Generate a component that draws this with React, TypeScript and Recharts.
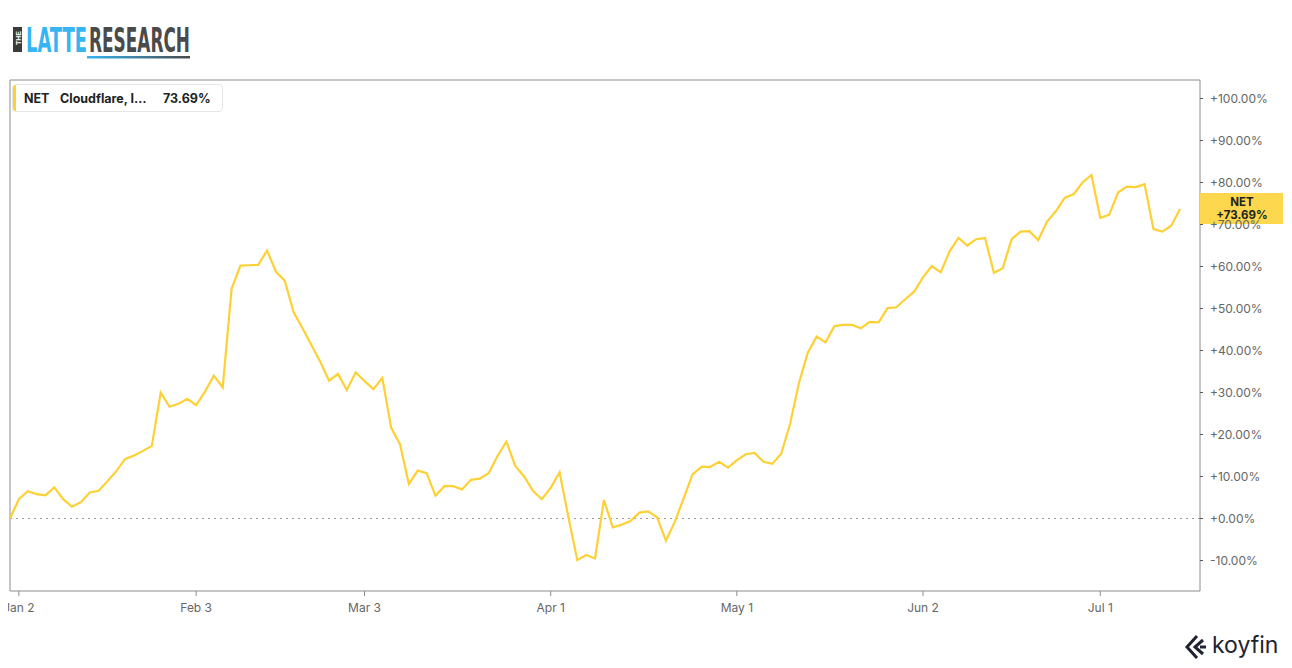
import React from 'react';
import { LineChart, Line, XAxis, YAxis, ReferenceLine, ReferenceDot } from 'recharts';

const VALUES: number[] = [
  0, 4.6, 6.5, 5.8, 5.5, 7.4, 4.6, 2.8, 3.9, 6.2,
  6.6, 8.9, 11.3, 14.2, 15.0, 16.1, 17.3, 30.0, 26.6, 27.3,
  28.5, 27.0, 30.2, 34.0, 31.2, 54.7, 60.2, 60.3, 60.4, 63.8,
  58.8, 56.6, 49.1, 45.3, 41.3, 37.3, 32.8, 34.4, 30.6, 34.8,
  32.7, 30.8, 33.5, 21.6, 17.7, 8.2, 11.4, 10.8, 5.4, 7.7,
  7.7, 6.9, 9.2, 9.5, 10.8, 14.9, 18.3, 12.5, 10.0, 6.6,
  4.6, 7.3, 11.0, 0.3, -9.9, -8.7, -9.5, 4.4, -2.1, -1.5,
  -0.6, 1.4, 1.7, 0.3, -5.3, -0.8, 4.8, 10.5, 12.3, 12.3,
  13.5, 12.1, 13.9, 15.3, 15.6, 13.5, 13.0, 15.4, 22.5, 32.2,
  39.5, 43.3, 41.9, 45.8, 46.1, 46.1, 45.3, 46.8, 46.7, 50.1,
  50.3, 52.2, 54.0, 57.4, 60.1, 58.6, 63.6, 66.8, 65.0, 66.5,
  66.8, 58.5, 59.6, 66.5, 68.3, 68.4, 66.3, 70.7, 73.2, 76.4,
  77.2, 80.0, 81.8, 71.6, 72.3, 77.6, 79.0, 78.9, 79.6, 68.9,
  68.3, 69.7, 73.69,
];

const TICK_IDX: number[] = [1, 21, 40, 61, 82, 103, 123];
const TICK_LABELS: string[] = ['Jan 2', 'Feb 3', 'Mar 3', 'Apr 1', 'May 1', 'Jun 2', 'Jul 1'];
const Y_TICKS: number[] = [-10, 0, 10, 20, 30, 40, 50, 60, 70, 80, 90, 100];

const TICKER = 'NET';
const NAME = 'Cloudflare, I…';
const LAST = 73.69;

const X_MAX = 134.25;
const Y_MIN = -17.26;
const Y_MAX = 104.4;

const LINE_COLOR = '#FDD135';
const FONT = 'Inter, "Liberation Sans", Arial, sans-serif';

const data = VALUES.map((v, i) => ({ i, v }));

const fmtPct = (v: number) => (v >= 0 ? '+' : '') + v.toFixed(2) + '%';

const PriceTag = (props: any) => {
  const { cx, cy } = props;
  if (cx == null || cy == null) return null;
  return (
    <g>
      <rect x={cx} y={cy - 16} width={83} height={31} fill="#FDD84E" />
      <text x={cx + 42} y={cy - 3} textAnchor="middle" fontSize={11.5} fontWeight={700} fill="#222" fontFamily={FONT}>
        {TICKER}
      </text>
      <text x={cx + 42} y={cy + 10} textAnchor="middle" fontSize={11.5} fontWeight={700} fill="#222" fontFamily={FONT}>
        {fmtPct(LAST)}
      </text>
    </g>
  );
};

const Logo = () => (
  <svg width={260} height={50} style={{ position: 'absolute', left: 0, top: 15 }} viewBox="0 15 260 50">
    <defs>
      <linearGradient id="ul" x1="0" x2="1" y1="0" y2="0">
        <stop offset="0" stopColor="#37b5f2" />
        <stop offset="1" stopColor="#4a4a4a" />
      </linearGradient>
    </defs>
    <rect x={13} y={27} width={9} height={25} fill="#3a3a3a" />
    <text x={0} y={0} transform="translate(20.5,45) rotate(-90)" fontSize={7} fontWeight={700} fill="#fff" fontFamily="Liberation Sans, Arial">THE</text>
    <text x={26} y={52} fontSize={34} fontWeight={700} fill="#37b5f2" fontFamily='"Liberation Sans Narrow", "DejaVu Sans Condensed", Arial' textLength={61} lengthAdjust="spacingAndGlyphs">LATTE</text>
    <text x={89} y={52} fontSize={34} fontWeight={700} fill="#4a4a4a" fontFamily='"Liberation Sans Narrow", "DejaVu Sans Condensed", Arial' textLength={101} lengthAdjust="spacingAndGlyphs">RESEARCH</text>
    <rect x={87} y={56} width={103} height={2.5} fill="url(#ul)" />
  </svg>
);

const KoyfinLogo = () => (
  <div style={{ position: 'absolute', left: 1184, top: 630, width: 100, height: 32 }}>
    <svg width={26} height={26} style={{ position: 'absolute', left: 0, top: 4 }}>
      <polyline points="13,2 3,13 13,24" fill="none" stroke="#1f2230" strokeWidth={3} />
      <polyline points="19,6 11,13 19,20" fill="none" stroke="#1f2230" strokeWidth={3} />
      <polyline points="22,13 16,13" fill="none" stroke="#1f2230" strokeWidth={3} />
    </svg>
    <div style={{ position: 'absolute', left: 28, top: 0, fontFamily: FONT, fontSize: 23, color: '#1f2230', lineHeight: '30px', letterSpacing: 0 }}>
      koyfin
    </div>
  </div>
);

const Legend = () => (
  <div
    style={{
      position: 'absolute', left: 12, top: 84, width: 209, height: 26,
      background: '#fff', border: '1px solid #e6e6e6', borderRadius: 4,
      fontFamily: FONT, fontSize: 12.5, fontWeight: 700, color: '#222', overflow: 'hidden',
    }}
  >
    <div style={{ position: 'absolute', left: 0, top: 0, width: 3, height: 26, background: LINE_COLOR }} />
    <div style={{ position: 'absolute', left: 11, top: 6 }}>{TICKER}</div>
    <div style={{ position: 'absolute', left: 47, top: 6 }}>{NAME}</div>
    <div style={{ position: 'absolute', left: 150, top: 6 }}>{LAST.toFixed(2)}%</div>
  </div>
);

export default function App() {
  return (
    <div style={{ position: 'absolute', left: 0, top: 0, width: 1292, height: 668, background: '#fff', overflow: 'hidden' }}>
      <Logo />
      <div style={{ position: 'absolute', left: 8, top: 0 }}>
        <LineChart width={1284} height={668} data={data} margin={{ top: 80, right: 0, left: 2, bottom: 0 }}>
          <XAxis
            type="number"
            dataKey="i"
            domain={[0, X_MAX]}
            allowDataOverflow
            ticks={TICK_IDX}
            interval={0}
            tickFormatter={(v: number) => TICK_LABELS[TICK_IDX.indexOf(v)] ?? ''}
            height={77}
            tickSize={5}
            tickMargin={7}
            axisLine={{ stroke: '#8c8c8c' }}
            tickLine={{ stroke: '#8c8c8c' }}
            tick={{ fill: '#666', fontSize: 12, fontFamily: FONT }}
          />
          <YAxis
            orientation="right"
            type="number"
            domain={[Y_MIN, Y_MAX]}
            allowDataOverflow
            ticks={Y_TICKS}
            interval={0}
            tickFormatter={fmtPct}
            width={92}
            tickSize={3}
            tickMargin={7}
            axisLine={{ stroke: '#8c8c8c' }}
            tickLine={{ stroke: '#555' }}
            tick={{ fill: '#666', fontSize: 12, fontFamily: FONT }}
          />
          <ReferenceLine y={Y_MAX} stroke="#8c8c8c" />
          <ReferenceLine x={0} stroke="#8c8c8c" />
          <ReferenceLine y={0} stroke="#999" strokeDasharray="2 4" />
          <Line
            type="linear"
            dataKey="v"
            stroke={LINE_COLOR}
            strokeWidth={2.2}
            dot={false}
            isAnimationActive={false}
          />
          <ReferenceDot x={X_MAX} y={LAST} ifOverflow="visible" shape={PriceTag} />
        </LineChart>
      </div>
      <Legend />
      <KoyfinLogo />
    </div>
  );
}
